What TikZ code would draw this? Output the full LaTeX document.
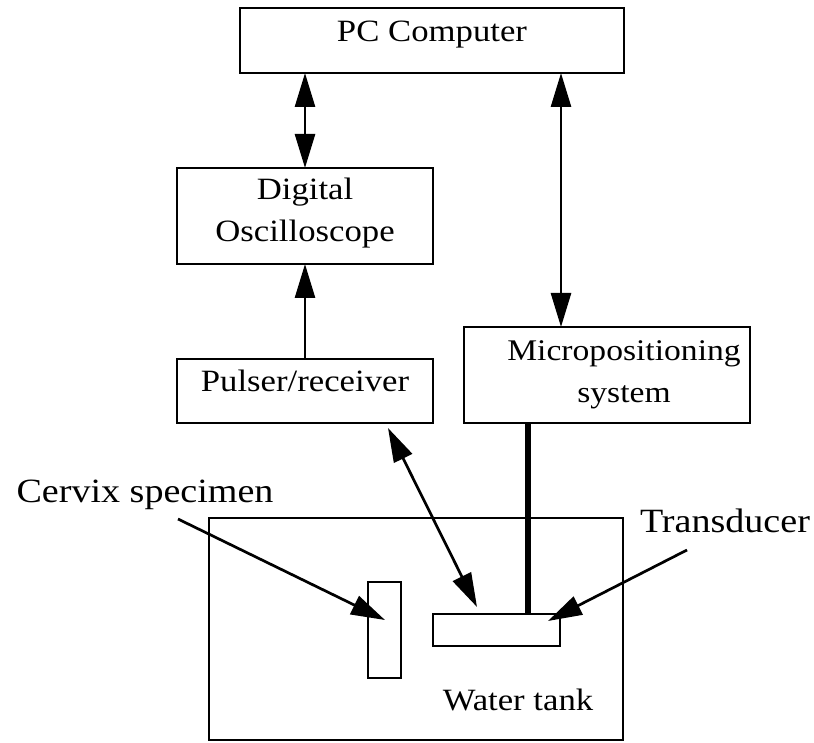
\documentclass[tikz,border=0pt]{standalone}
\usepackage{fontspec}
\setmainfont{Liberation Serif}[FakeStretch=1.12]
\usetikzlibrary{arrows.meta}
\begin{document}
\begin{tikzpicture}[x=1pt,y=-1pt,
  box/.style={draw, line width=2.7pt, rectangle, inner sep=0pt, outer sep=0pt},
  txt/.style={font=\fontsize{31}{36}\selectfont, anchor=base, inner sep=0pt},
  lbl/.style={font=\fontsize{34}{40}\selectfont, anchor=base, inner sep=0pt},
  conn/.style={line width=2.7pt},
  >={Triangle[length=34pt,width=20pt]}]
\useasboundingbox (0,0) rectangle (814,743);
% boxes
\node[box, minimum width=384pt, minimum height=65pt] (pc) at (432,40.5) {};
\node[box, minimum width=256pt, minimum height=96pt] (osc) at (305,216) {};
\node[box, minimum width=256pt, minimum height=64pt] (pulser) at (305,391) {};
\node[box, minimum width=286pt, minimum height=96pt] (micro) at (607,375) {};
\node[box, minimum width=414pt, minimum height=222pt] (tank) at (416,629) {};
\node[box, minimum width=33pt, minimum height=96pt] (cervix) at (384.5,630) {};
\node[box, minimum width=127pt, minimum height=32pt] (transd) at (496.5,630) {};
% texts
\node[txt] (tpc) at (432,42) {PC Computer};
\node[txt] (tdig) at (305,200) {Digital};
\node[txt] (tosc) at (305,242) {Oscilloscope};
\node[txt] (tpul) at (305,391) {Pulser/receiver};
\node[txt, font=\fontsize{30}{36}\selectfont] (tmic) at (624,360) {Micropositioning};
\node[txt, font=\fontsize{30}{36}\selectfont] (tsys) at (624,402) {system};
\node[txt] (twat) at (518,710) {Water tank};
\node[lbl] (lcerv) at (145,502) {Cervix specimen};
\node[lbl] (ltrans) at (725,532) {Transducer};
% helper coordinates
\coordinate (mx) at (561,0);
\coordinate (tx) at (528,0);
\coordinate (pr) at (388,428);
\coordinate (tr) at (477,607);
\coordinate (cs) at (178,519);
\coordinate (ce) at (385,620);
\coordinate (ts) at (687,550);
\coordinate (te) at (548,621);
% connectors
\draw[conn,<->] (pc.south -| osc.north) -- (osc.north);
\draw[conn,->] (pulser.north) -- (osc.south);
\draw[conn,<->] (pc.south -| mx) -- (micro.north -| mx);
\draw[line width=6pt] (micro.south -| tx) -- (transd.north -| tx);
\draw[conn,<->] (pr) -- (tr);
\draw[conn,->] (cs) -- (ce);
\draw[conn,->] (ts) -- (te);
\end{tikzpicture}
\end{document}
